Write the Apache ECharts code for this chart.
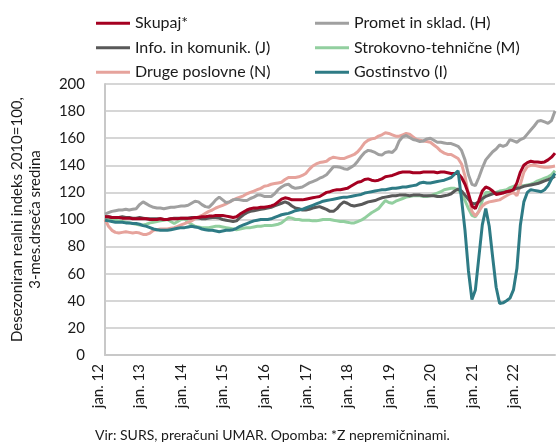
<!DOCTYPE html>
<html>
<head>
<meta charset="utf-8">
<script src="https://cdn.jsdelivr.net/npm/echarts@6/dist/echarts.min.js"></script>
<style>
  html, body { margin: 0; padding: 0; background: #fff; }
  #chart { width: 557px; height: 444px; }
</style>
</head>
<body>
<div id="chart"></div>
<script>
// tick labels on the x axis (one every 12 months)
const tickLabels = ['jan. 12', 'jan. 13', 'jan. 14', 'jan. 15', 'jan. 16', 'jan. 17',
  'jan. 18', 'jan. 19', 'jan. 20', 'jan. 21', 'jan. 22']
const monthNames = ['jan.', 'feb.', 'mar.', 'apr.', 'maj', 'jun.', 'jul.', 'avg.', 'sep.', 'okt.', 'nov.', 'dec.']

const skupaj = [
  102, 102, 101.5, 101.5, 101.5, 101, 101, 101, 100.5, 100.5, 100.5, 100.5,
  100.5, 100, 100, 100, 100.5, 100, 100, 100.5, 100.5, 100.5, 101, 101,
  101, 101, 101.5, 101.5, 102, 102, 102.5, 102.5, 103, 103, 103, 102.5,
  102, 101.5, 102, 104, 105.5, 107, 108, 108.5, 108.5, 109, 109, 109.5,
  110, 111, 113, 115, 116, 115.5, 114.5, 114.5, 114.5, 114.5, 115, 115.5,
  116, 116.5, 117, 118.5, 120, 120.5, 121.5, 122, 122, 122.5, 123, 124.5,
  126, 127.5, 128, 129.5, 130, 129, 128.5, 129, 130, 131.5, 132, 132.5,
  133.5, 134.5, 135, 135, 135, 134.5, 134.5, 134.5, 135, 135, 135, 135,
  134.5, 135, 135, 134.5, 134, 134, 134, 131, 126, 119, 110, 108,
  114, 121, 124, 123, 121, 118.5, 119, 119.5, 120.5, 121, 122, 127,
  135, 140, 142, 143, 142.5, 142.5, 142, 142.5, 144, 146, 149
]
const promet = [
  104, 105, 106, 106.5, 107, 107, 107.5, 107, 107.5, 108, 111, 113,
  111.5, 110, 109, 108.5, 108.5, 108, 108.5, 109, 109, 109.5, 110, 110,
  110.5, 112, 113.5, 113, 111, 109.5, 109, 111.5, 114.5, 116.5, 114.5, 112.5,
  113, 114.5, 115, 114.5, 114, 114, 115.5, 116.5, 118, 118, 117, 117,
  117, 119, 122, 124, 125.5, 126, 124, 123, 123.5, 124, 125.5, 127,
  128, 129, 130.5, 131.5, 133, 136, 139, 139, 138.5, 137.5, 137, 138.5,
  140, 143, 146.5, 149.5, 151, 150.5, 149.5, 148, 147.5, 149.5, 150, 149.5,
  152, 158, 161, 162, 160.5, 159, 158.5, 157.5, 158, 159.5, 160, 158.5,
  157, 157, 156.5, 156, 156, 155, 154, 151, 144, 133, 126, 125,
  131, 138, 144, 147, 150, 152, 155, 154, 155, 159, 158, 157,
  159, 160, 163, 166, 169, 172.5, 173, 172, 171, 173, 180
]
const info = [
  102, 102, 101.5, 101.5, 101.5, 102, 101.5, 101.5, 101, 101, 101.5, 101,
  100.5, 100.5, 100.5, 100.5, 100.5, 100, 100, 100.5, 101, 101, 101, 101,
  101, 101.5, 101.5, 101, 100.5, 100.5, 101, 101.5, 101.5, 101, 100, 99.5,
  99, 98.5, 99, 101.5, 103.5, 105, 106, 106.5, 107, 107.5, 108, 108.5,
  109, 110, 111, 112, 113, 112, 110, 108.5, 108, 107, 107, 107.5,
  108.5, 109, 109.5, 108.5, 107.5, 106, 106, 108, 111, 113, 112, 110.5,
  110, 110.5, 111, 112, 113, 113.5, 114, 115, 116, 116.5, 117, 117.5,
  117.5, 118, 118, 118, 117.5, 118, 118, 118, 117.5, 117.5, 117.5, 117.5,
  117, 117, 117.5, 118, 119, 121, 122.5, 121, 118, 115, 112, 111.5,
  113, 115.5, 117, 118, 119, 119.5, 119.5, 120, 120.5, 121, 122, 123,
  123.5, 124.5, 125, 125.5, 126, 126.5, 127.5, 128.5, 129.5, 130.5, 132
]
const strokovno = [
  101, 100.5, 100, 99.5, 99, 98.5, 98, 97.5, 97, 96.5, 96, 96,
  96.5, 97.5, 98, 98.5, 99, 99.5, 100, 98.5, 97, 98.5, 100, 100.5,
  98, 96.5, 95, 94.5, 94, 94, 94, 94.5, 95, 95, 94.5, 94,
  93.5, 93, 92.5, 93, 93.5, 94, 94, 94.5, 95, 95, 95.5, 95.5,
  95.5, 96, 96.5, 97.5, 99.5, 101.5, 101, 100, 100, 99.5, 99.5, 99.5,
  99, 99, 99.5, 100, 100, 100, 99.5, 99, 98.5, 98.5, 98, 97.5,
  97.5, 98.5, 99.5, 101, 103, 105, 106.5, 108, 111, 114, 112.5, 112,
  113.5, 114.5, 115.5, 116.5, 117, 117.5, 117.5, 117.5, 117, 117, 117.5, 118.5,
  119.5, 120.5, 122, 122.5, 123, 123, 122, 119, 114, 108, 103, 102,
  106, 114, 120, 120, 119.5, 120, 121, 121.5, 122, 123.5, 124.5, 125,
  125, 125, 125.5, 126, 127, 128.5, 129.5, 130.5, 131.5, 133, 136
]
const druge = [
  100, 95, 92, 90.5, 90, 90.5, 91, 90.5, 90, 90.5, 90, 89,
  89, 90, 92, 92.5, 93, 93, 93, 93.5, 94, 95, 96, 97,
  98, 99, 100.5, 102, 103, 104.5, 106, 107, 108.5, 109.5, 110.5, 111.5,
  113, 114.5, 115.5, 116.5, 117.5, 119, 120, 121, 122, 123, 124.5, 125,
  126, 126.5, 127, 127.5, 129.5, 131, 131, 131, 131.5, 132.5, 134, 137,
  139.5, 141, 142, 142.5, 143, 145, 146, 145.5, 145, 145, 146, 147,
  148, 150, 153, 156.5, 158.5, 159.5, 160, 161.5, 162.5, 164, 163.5, 162.5,
  161.5, 161.5, 162.5, 163.5, 163, 161, 159, 158.5, 158, 157.5, 157, 155,
  153, 150.5, 149, 148, 148, 146.5, 145, 141, 132, 118, 106, 102.5,
  106, 110, 112, 113, 113.5, 114, 114.5, 116, 117.5, 119, 120, 117.5,
  126, 135, 139, 140, 140, 139.5, 139, 138.5, 138.5, 139, 139.5
]
const gostinstvo = [
  99.5, 99, 98.5, 98, 98, 98, 97.5, 97.5, 97, 97, 96.5, 95.5,
  95, 94, 93, 92.5, 92, 92, 92, 92.5, 93, 93.5, 94, 94,
  94.5, 95, 94.5, 94, 93, 92.5, 92, 92, 91.5, 91, 91.5, 92,
  92, 92.5, 93.5, 95, 96, 97, 98, 99, 99.5, 100, 100, 100,
  100.5, 101.5, 102.5, 103.5, 104, 104.5, 105.5, 106.5, 107, 107.5, 108.5, 109.5,
  110.5, 111.5, 112.5, 113.5, 114, 114.5, 115, 115.5, 116, 116.5, 116.5, 117,
  117.5, 118, 118.5, 119.5, 120, 120.5, 121, 121.5, 122, 122, 122.5, 123,
  123, 123.5, 124, 124, 124.5, 125, 125.5, 127, 127.5, 127, 127, 127.5,
  128, 128.5, 129, 130, 131, 133.5, 136, 115, 92, 62, 41, 48,
  72, 96, 108, 95, 72, 50, 38, 38.5, 40, 42, 48, 64,
  96, 113, 120, 122, 121.5, 121, 120.5, 122, 125, 130, 134
]

// month categories, starting jan. 2012
const categories = []
for (let i = 0; i < skupaj.length; i++) {
  const year = 12 + Math.floor(i / 12)
  categories.push(monthNames[i % 12] + ' ' + year)
}

const fontFamily = 'Lato, "Open Sans", sans-serif'
const textColor = '#1a1a1a'

const chart = echarts.init(document.getElementById('chart'), null, { renderer: 'canvas' })

function line(name, data, color) {
  return {
    name: name,
    type: 'line',
    data: data,
    symbol: 'none',
    smooth: false,
    lineStyle: { color: color, width: 3 },
    itemStyle: { color: color }
  }
}

const legendBase = {
  orient: 'vertical',
  icon: 'rect',
  itemWidth: 34,
  itemHeight: 3,
  itemGap: 8,
  top: 10,
  textStyle: { fontFamily: fontFamily, fontSize: 16, color: textColor, lineHeight: 16.5 }
}

const option = {
  animation: false,
  backgroundColor: '#fff',
  title: {
    text: 'Vir: SURS, preračuni UMAR. Opomba: *Z nepremičninami.',
    left: 90,
    top: 423,
    textStyle: { fontFamily: fontFamily, fontSize: 14, fontWeight: 'normal', color: textColor }
  },
  legend: [
    Object.assign({}, legendBase, {
      left: 91,
      data: ['Skupaj*', 'Info. in komunik. (J)', 'Druge poslovne (N)']
    }),
    Object.assign({}, legendBase, {
      left: 310,
      data: ['Promet in sklad. (H)', 'Strokovno-tehnične (M)', 'Gostinstvo (I)']
    })
  ],
  grid: { left: 101, right: 2, top: 84, bottom: 89 },
  xAxis: {
    type: 'category',
    data: categories,
    boundaryGap: false,
    axisLine: { show: true, lineStyle: { color: '#c8c8c8', width: 2 } },
    axisTick: { show: false },
    axisLabel: {
      interval: 11,
      rotate: 90,
      margin: 9,
      verticalAlign: 'bottom',
      lineHeight: 14,
      fontFamily: fontFamily,
      fontSize: 15,
      color: textColor,
      formatter: function (value, idx) {
        return tickLabels[Math.floor(idx / 12)]
      }
    },
    splitLine: { show: false }
  },
  yAxis: {
    type: 'value',
    min: 0,
    max: 200,
    interval: 20,
    name: 'Desezoniran realni indeks 2010=100,\n3-mes.drseča sredina',
    nameLocation: 'middle',
    nameGap: 61,
    nameTextStyle: { fontFamily: fontFamily, fontSize: 15, color: textColor, lineHeight: 18 },
    axisLine: { show: true, lineStyle: { color: '#c8c8c8', width: 2 } },
    axisTick: { show: false },
    axisLabel: { margin: 20, fontFamily: fontFamily, fontSize: 15, color: textColor },
    splitLine: { lineStyle: { color: '#c8c8c8', width: 1.5 } }
  },
  series: [
    line('Strokovno-tehnične (M)', strokovno, '#92cf9f'),
    line('Druge poslovne (N)', druge, '#e6a39c'),
    line('Promet in sklad. (H)', promet, '#a0a0a0'),
    line('Info. in komunik. (J)', info, '#595959'),
    line('Skupaj*', skupaj, '#a50021'),
    line('Gostinstvo (I)', gostinstvo, '#2e7b85')
  ]
}

chart.setOption(option)
</script>
</body>
</html>
